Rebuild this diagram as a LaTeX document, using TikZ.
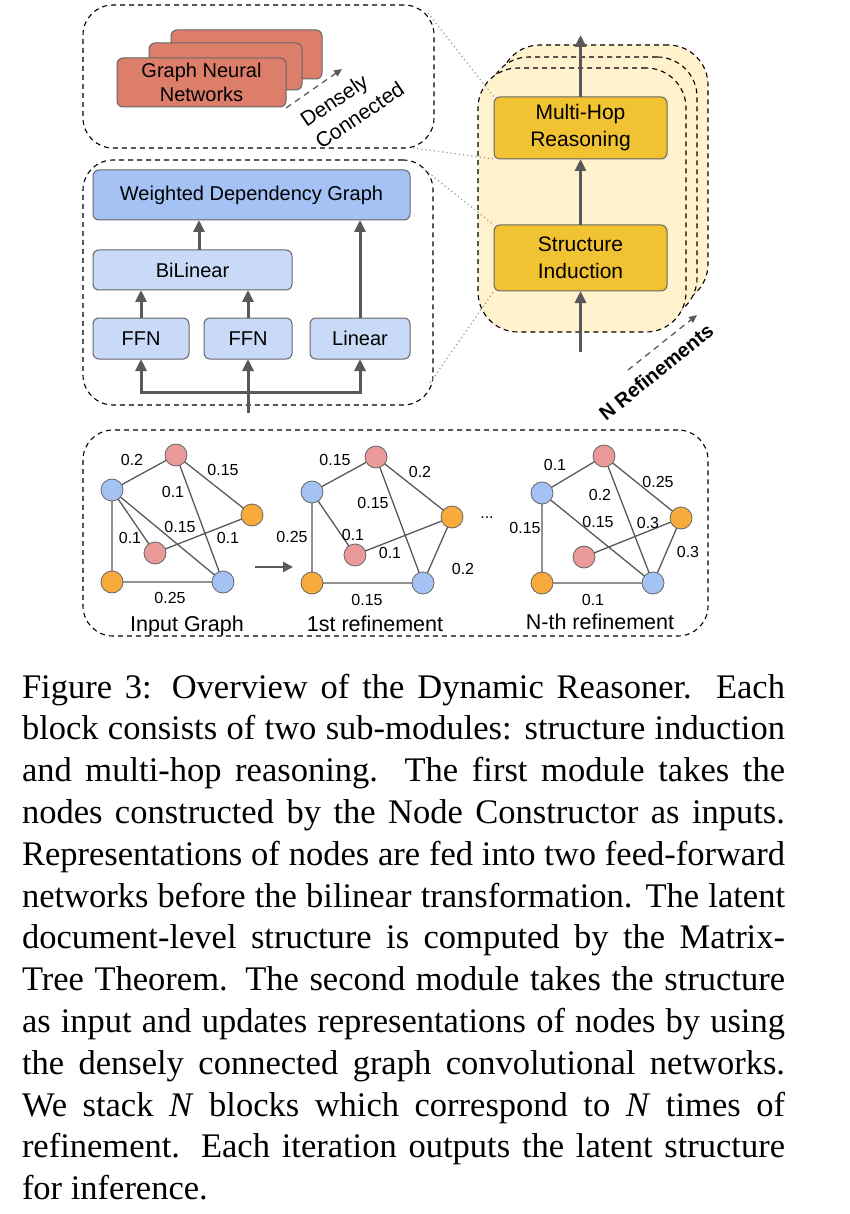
\documentclass[tikz,border=0pt]{standalone}
\usepackage{fontspec}
\setmainfont{Liberation Sans}
\newfontfamily\capfont{Liberation Serif}
\usetikzlibrary{arrows.meta}
\definecolor{salmon}{HTML}{DD7E6B}
\definecolor{wdgblue}{HTML}{A4C2F4}
\definecolor{lightblue}{HTML}{C9DAF8}
\definecolor{yellowfill}{HTML}{FFF2CC}
\definecolor{gold}{HTML}{F1C232}
\definecolor{nblue}{HTML}{A4C2F4}
\definecolor{npink}{HTML}{EA9999}
\definecolor{norange}{HTML}{F9AA3C}
\definecolor{boxgray}{HTML}{666666}
\definecolor{arrgray}{HTML}{595959}
\definecolor{dotgray}{HTML}{999999}
\begin{document}
\begin{tikzpicture}[x=1pt,y=-1pt,
  every node/.style={inner sep=0pt,outer sep=0pt},
  bx/.style={draw=boxgray,line width=1pt,rounded corners=6pt,align=center,font=\fontsize{20}{23.3}\selectfont},
  ybx/.style={bx,fill=gold,minimum width=173pt,font=\fontsize{21}{27}\selectfont},
  container/.style={draw=black,line width=1.1pt,dash pattern=on 5pt off 4pt,rounded corners=30pt},
  stackbox/.style={draw=black,fill=yellowfill,line width=1.1pt,dash pattern=on 5pt off 4pt,rounded corners=40pt},
  arr/.style={draw=arrgray,line width=3pt,-{Triangle[length=12pt,width=11pt]}},
  dasharr/.style={draw=arrgray,line width=1.3pt,dash pattern=on 6pt off 5pt,-{Triangle[length=8pt,width=7pt]}},
  dotline/.style={draw=dotgray,line width=1.2pt,dash pattern=on 1.2pt off 3pt},
  gn/.style={circle,draw=boxgray,line width=0.8pt,minimum size=22pt},
  ge/.style={draw=arrgray,line width=1.3pt},
  wl/.style={font=\fontsize{16}{16}\selectfont},
  gtitle/.style={anchor=base,font=\fontsize{21.5}{24}\selectfont},
  capline/.style={anchor=base west,font=\capfont\fontsize{34.5}{41.8}\selectfont}
]
\useasboundingbox (0,0) rectangle (850,1214);
\fill[white] (0,0) rectangle (850,1214);

% containers
\node[container,minimum width=351pt,minimum height=143pt] (gnnbox) at (258.5,76.5) {};
\node[container,minimum width=350pt,minimum height=245pt] (wdgbox) at (258,282.5) {};
\node[container,minimum width=625pt,minimum height=206pt] (graphbox) at (395.5,533) {};

% GNN stack
\node[bx,fill=salmon,minimum width=151pt,minimum height=49pt] (gnn3) at (246.5,54.5) {};
\node[bx,fill=salmon,minimum width=153pt,minimum height=47pt] (gnn2) at (225.5,66.5) {};
\node[bx,fill=salmon,minimum width=169pt,minimum height=49pt] (gnn1) at (201.5,82.5) {Graph Neural\\Networks};
\coordinate (dcs) at (286,108);
\coordinate (dce) at (342,69);
\draw[dasharr] (dcs) -- (dce);
\node[rotate=34,align=left,font=\fontsize{21}{26.5}\selectfont] (dctext) at (352,104) {Densely\\Connected};

% structure induction internals
\node[bx,fill=wdgblue,minimum width=317pt,minimum height=50pt] (wdg) at (251.5,195) {Weighted Dependency Graph};
\node[bx,fill=lightblue,minimum width=199pt,minimum height=40pt] (bil) at (192.5,270) {BiLinear};
\node[bx,fill=lightblue,minimum width=96pt,minimum height=41pt] (ffn1) at (141,338.5) {FFN};
\node[bx,fill=lightblue,minimum width=88pt,minimum height=41pt] (ffn2) at (248,338.5) {FFN};
\node[bx,fill=lightblue,minimum width=100pt,minimum height=41pt] (lin) at (360,338.5) {Linear};
\coordinate (bilup) at (199,250);
\draw[arr] (ffn1.north) -- (ffn1.north |- bil.south);
\draw[arr] (ffn2.north) -- (ffn2.north |- bil.south);
\draw[arr] (bilup) -- (bilup |- wdg.south);
\draw[arr] (lin.north) -- (lin.north |- wdg.south);
\coordinate (inbot) at (248,413);
\coordinate (junc) at (248,392);
\draw[arr] (inbot) -- (ffn2.south);
\draw[arr] (junc) -| (ffn1.south);
\draw[arr] (junc) -| (lin.south);

% right stack
\node[stackbox,minimum width=208pt,minimum height=259pt] (stk3) at (604,174.5) {};
\node[stackbox,minimum width=208pt,minimum height=261pt] (stk2) at (593,187.5) {};
\node[stackbox,minimum width=208pt,minimum height=264pt] (stk1) at (582,200) {};
\node[ybx,minimum height=62pt] (mh) at (580.5,128) {Multi-Hop\\Reasoning};
\node[ybx,minimum height=66pt] (si) at (580.5,258) {Structure\\Induction};
\coordinate (stin) at (580.5,352);
\coordinate (stout) at (580.5,35);
\draw[arr] (stin) -- (si.south);
\draw[arr] (si.north) -- (mh.south);
\draw[arr] (mh.north) -- (stout);
\coordinate (nrs) at (628,370);
\coordinate (nre) at (697,315);
\draw[dasharr] (nrs) -- (nre);
\node[rotate=39,font=\bfseries\fontsize{20}{24}\selectfont] (nrtext) at (656,372) {N Refinements};

% dotted zoom lines
\draw[dotline] ([shift={(-6,8)}]gnnbox.north east) -- (mh.north west);
\draw[dotline] ([shift={(-21,0)}]gnnbox.south east) -- (mh.south west);
\draw[dotline] ([shift={(-8,10)}]wdgbox.north east) -- (si.north west);
\draw[dotline] ([shift={(-3,-22)}]wdgbox.south east) -- (si.south west);

% graph 1
\node[gn,fill=nblue] (a1) at (112,490) {};
\node[gn,fill=npink] (b1) at (176,455) {};
\node[gn,fill=norange] (c1) at (252,515) {};
\node[gn,fill=npink] (d1) at (155,553) {};
\node[gn,fill=norange] (e1) at (112,582) {};
\node[gn,fill=nblue] (f1) at (223,582) {};
\draw[ge] (a1) -- (b1) (a1) -- (e1) (a1) -- (d1) (a1) -- (f1) (b1) -- (c1) (b1) -- (f1) (d1) -- (c1) (e1) -- (f1);
\node[wl] (l1a) at (132,460) {0.2};
\node[wl] (l1b) at (223,470) {0.15};
\node[wl] (l1c) at (173,492) {0.1};
\node[wl] (l1d) at (180,527) {0.15};
\node[wl] (l1e) at (130,538) {0.1};
\node[wl] (l1f) at (228,538) {0.1};
\node[wl] (l1g) at (170,598) {0.25};
\node[gtitle] (t1) at (187,631) {Input Graph};
\coordinate (g1arr) at (255,567);
\coordinate (g2arr) at (293,567);
\draw[draw=arrgray,line width=2.5pt,-{Triangle[length=10pt,width=10pt]}] (g1arr) -- (g2arr);

% graph 2
\node[gn,fill=nblue] (a2) at (312,492) {};
\node[gn,fill=npink] (b2) at (376,457) {};
\node[gn,fill=norange] (c2) at (452,517) {};
\node[gn,fill=npink] (d2) at (355,555) {};
\node[gn,fill=norange] (e2) at (312,583) {};
\node[gn,fill=nblue] (f2) at (423,583) {};
\draw[ge] (a2) -- (b2) (b2) -- (c2) (b2) -- (f2) (a2) -- (d2) (d2) -- (c2) (c2) -- (f2) (a2) -- (e2) (e2) -- (f2);
\node[wl] (l2a) at (335,460) {0.15};
\node[wl] (l2b) at (420,472) {0.2};
\node[wl] (l2c) at (373,503) {0.15};
\node[wl] (l2d) at (353,535) {0.1};
\node[wl] (l2e) at (390,553) {0.1};
\node[wl] (l2f) at (463,569) {0.2};
\node[wl] (l2g) at (292,537) {0.25};
\node[wl] (l2h) at (367,600) {0.15};
\node[gtitle] (t2) at (375,631) {1st refinement};
\node[wl] (dots) at (487,518) {...};

% graph 3
\node[gn,fill=nblue] (a3) at (542,493) {};
\node[gn,fill=npink] (b3) at (604,456) {};
\node[gn,fill=norange] (c3) at (681,518) {};
\node[gn,fill=npink] (d3) at (584,557) {};
\node[gn,fill=norange] (e3) at (542,583) {};
\node[gn,fill=nblue] (f3) at (653,583) {};
\draw[ge] (a3) -- (b3) (b3) -- (c3) (b3) -- (f3) (a3) -- (f3) (d3) -- (c3) (c3) -- (f3) (a3) -- (e3) (e3) -- (f3);
\node[wl] (l3a) at (555,465) {0.1};
\node[wl] (l3b) at (658,482) {0.25};
\node[wl] (l3c) at (600,495) {0.2};
\node[wl] (l3d) at (598,522) {0.15};
\node[wl] (l3e) at (648,523) {0.3};
\node[wl] (l3f) at (688,552) {0.3};
\node[wl] (l3g) at (525,528) {0.15};
\node[wl] (l3h) at (593,600) {0.1};
\node[gtitle] (t3) at (600,629) {N-th refinement};

% caption
\node[capline] (cap1) at (22,698) {\makebox[763pt][s]{Figure 3: Overview of the Dynamic Reasoner. Each}};
\node[capline] (cap2) at (22,739.8) {\makebox[763pt][s]{block consists of two sub-modules: structure induction}};
\node[capline] (cap3) at (22,781.6) {\makebox[763pt][s]{and multi-hop reasoning. The first module takes the}};
\node[capline] (cap4) at (22,823.4) {\makebox[763pt][s]{nodes constructed by the Node Constructor as inputs.}};
\node[capline] (cap5) at (22,865.2) {\makebox[763pt][s]{Representations of nodes are fed into two feed-forward}};
\node[capline] (cap6) at (22,907) {\makebox[763pt][s]{networks before the bilinear transformation.\frenchspacing{} The latent}};
\node[capline] (cap7) at (22,948.8) {\makebox[763pt][s]{document-level structure is computed by the Matrix-}};
\node[capline] (cap8) at (22,990.6) {\makebox[763pt][s]{Tree Theorem. The second module takes the structure}};
\node[capline] (cap9) at (22,1032.4) {\makebox[763pt][s]{as input and updates representations of nodes by using}};
\node[capline] (cap10) at (22,1074.2) {\makebox[763pt][s]{the densely connected graph convolutional networks.}};
\node[capline] (cap11) at (22,1116) {\makebox[763pt][s]{We stack \textit{N} blocks which correspond to \textit{N} times of}};
\node[capline] (cap12) at (22,1157.8) {\makebox[763pt][s]{refinement. Each iteration outputs the latent structure}};
\node[capline] (cap13) at (22,1199.6) {for inference.};
\end{tikzpicture}
\end{document}
